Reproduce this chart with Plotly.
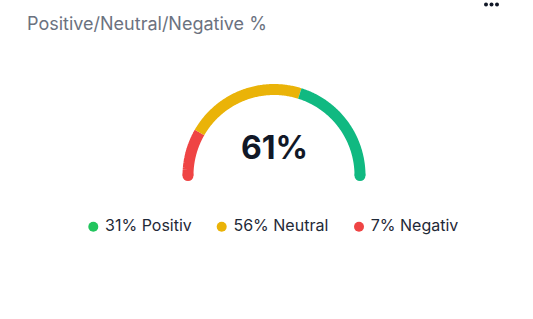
import numpy as np
import plotly.graph_objects as go

# ---- data ----
title = "Positive/Neutral/Negative %"
gauge_value = 61
categories = ["Positiv", "Neutral", "Negativ"]
percents = [31, 56, 7]
# share of the half-circle taken by each coloured arc (left -> right)
arc_order = ["Negativ", "Neutral", "Positiv"]
arc_share = [16.7, 43.0, 40.3]

# ---- styles ----
legend_colors = {"Positiv": "#22c55e", "Neutral": "#eab308", "Negativ": "#ef4444"}
arc_colors = {"Positiv": "#10b981", "Neutral": "#eab308", "Negativ": "#ef4444"}

W, H = 533, 319
cx_px, cy_px, r_px = 274, 175.5, 86
line_w = 11


def px_x(x):
    return (x - cx_px) / r_px


def px_y(y):
    return (cy_px - y) / r_px


fig = go.Figure()

# arcs in a unit-radius coordinate system, angle pi (left) -> 0 (right)
total = sum(arc_share)
start = np.pi
for i, (name, share) in enumerate(zip(arc_order, arc_share)):
    span = np.pi * share / total
    t = np.linspace(start, start - span, 120)
    fig.add_trace(go.Scatter(x=np.cos(t), y=np.sin(t), mode="lines",
                             line=dict(color=arc_colors[name], width=line_w, simplify=False),
                             hoverinfo="skip", showlegend=False))
    if i == 0:
        fig.add_trace(go.Scatter(x=[np.cos(start)], y=[np.sin(start)], mode="markers",
                                 marker=dict(color=arc_colors[name], size=line_w, line=dict(width=0)),
                                 hoverinfo="skip", showlegend=False))
    if i == len(arc_order) - 1:
        fig.add_trace(go.Scatter(x=[np.cos(start - span)], y=[np.sin(start - span)], mode="markers",
                                 marker=dict(color=arc_colors[name], size=line_w, line=dict(width=0)),
                                 hoverinfo="skip", showlegend=False))
    start -= span

# legend row drawn as markers + text
legend_x_px = [93.3, 221.7, 359]
legend_y_px = 226.7
fig.add_trace(go.Scatter(
    x=[px_x(x) for x in legend_x_px], y=[px_y(legend_y_px)] * 3, mode="markers+text",
    text=[f" {p}% {c}" for p, c in zip(percents, categories)],
    textposition="middle right",
    textfont=dict(family="Inter", size=16, color="#1f2937"),
    marker=dict(size=10, color=[legend_colors[c] for c in categories], line=dict(width=0)),
    hoverinfo="skip", showlegend=False))

# menu dots (icon)
fig.add_trace(go.Scatter(
    x=[px_x(x) for x in (486, 491.5, 497)], y=[px_y(4.5)] * 3, mode="markers",
    marker=dict(size=4, color="#111827", line=dict(width=0)),
    hoverinfo="skip", showlegend=False))

# centre value
fig.add_annotation(x=0, y=px_y(147), text=f"<b>{gauge_value}%</b>", showarrow=False,
                   font=dict(family="Inter", size=32, color="#111827"),
                   xanchor="center", yanchor="middle")

fig.add_annotation(xref="paper", yref="paper", x=25 / W, y=1 - 24 / H, text=title, showarrow=False,
                   xanchor="left", yanchor="middle",
                   font=dict(family="Inter", size=18, color="#6b7280"))

fig.update_layout(
    width=W, height=H,
    margin=dict(l=0, r=0, t=0, b=0),
    paper_bgcolor="white", plot_bgcolor="white",
    xaxis=dict(range=[-cx_px / r_px, (W - cx_px) / r_px], visible=False, fixedrange=True),
    yaxis=dict(range=[-(H - cy_px) / r_px, cy_px / r_px], visible=False, fixedrange=True),
    showlegend=False,
)

fig.write_html("out.html")
